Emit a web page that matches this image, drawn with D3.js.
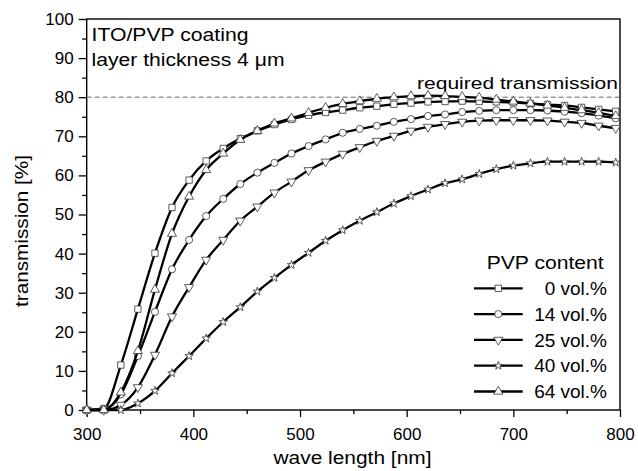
<!DOCTYPE html>
<html>
<head>
<meta charset="utf-8">
<script src="https://cdn.jsdelivr.net/npm/d3@7"></script>
<style>
  body { margin: 0; background: #fff; }
  text { font-family: "Liberation Sans", Arial, Helvetica, sans-serif; fill: #000; }
</style>
</head>
<body>
<svg id="chart" width="638" height="471"></svg>
<script>
// Sampling wavelengths (nm) of the transmission spectra
const wavelengths = [300,316,332,348,364,380,396,412,428,444,460,476,492,508,524,540,
                     556,572,588,604,620,636,652,668,684,700,716,732,748,764,780,796];

// Transmission (%) for each PVP content of the ITO/PVP coating
const pvp0  = [0,0.3,11.5,25.8,40.1,51.8,58.8,63.7,66.9,69.4,71.4,73.0,74.3,75.4,76.1,76.7,
               77.3,77.7,78.2,78.5,78.8,78.9,79.0,78.9,78.8,78.6,78.4,78.1,77.9,77.4,76.9,76.4];
const pvp14 = [0,0.2,4.0,13.8,25.1,36.0,43.5,49.6,54.0,57.8,60.7,63.2,65.6,67.5,69.2,70.9,
               71.9,72.7,73.7,74.4,75.2,75.6,76.2,76.5,76.7,76.7,76.7,76.6,76.3,75.9,75.3,74.6];
const pvp25 = [0,0,1.3,5.8,14.1,23.9,31.4,38.4,43.5,48.4,52.0,55.6,58.4,61.3,63.5,65.5,
               67.2,68.8,70.1,71.4,72.4,73.1,73.7,74.0,74.1,74.1,74.1,74.0,73.7,73.4,72.7,72.1];
const pvp40 = [0,0,0,1.7,4.9,9.4,13.8,18.3,22.5,26.3,30.3,33.8,37.1,40.2,43.3,46.0,
               48.4,50.6,52.8,54.7,56.4,58.0,59.0,60.4,61.6,62.5,63.1,63.5,63.5,63.5,63.5,63.3];
const pvp64 = [0,0,4.5,15.1,30.8,45.1,54.6,61.4,65.6,69.1,71.4,73.3,74.6,76.0,77.3,78.3,
               79.0,79.6,80.0,80.3,80.4,80.3,80.1,79.9,79.4,78.9,78.4,77.9,77.3,76.7,76.0,75.2];

const seriesLabels = ["0 vol.%", "14 vol.%", "25 vol.%", "40 vol.%", "64 vol.%"];
const xTicks = [300, 400, 500, 600, 700, 800];
const xMinorTicks = [350, 450, 550, 650, 750];
const yTicks = [0, 10, 20, 30, 40, 50, 60, 70, 80, 90, 100];
const yMinorTicks = [5, 15, 25, 35, 45, 55, 65, 75, 85, 95];
const requiredTransmission = 80;

const series = [
  { label: seriesLabels[0], values: pvp0,  symbol: d3.symbolSquare,   size: 40, rotate: 0 },
  { label: seriesLabels[1], values: pvp14, symbol: d3.symbolCircle,   size: 40, rotate: 0 },
  { label: seriesLabels[2], values: pvp25, symbol: d3.symbolTriangle, size: 36, rotate: 180 },
  { label: seriesLabels[3], values: pvp40, symbol: d3.symbolStar,     size: 22, rotate: 0 },
  { label: seriesLabels[4], values: pvp64, symbol: d3.symbolTriangle, size: 36, rotate: 0 }
];

const svg = d3.select("#chart");
const plot = { left: 86.7, right: 620, top: 19, bottom: 410 };

const x = d3.scaleLinear().domain([300, 800]).range([plot.left, plot.right]);
const y = d3.scaleLinear().domain([0, 100]).range([plot.bottom, plot.top]);

// Axes: major ticks with labels, minor ticks without
const tickFont = "17px";
const xAxis = svg.append("g")
  .attr("transform", `translate(0,${plot.bottom})`)
  .call(d3.axisBottom(x).tickValues(xTicks).tickSizeInner(7).tickSizeOuter(0).tickPadding(11));
svg.append("g")
  .attr("transform", `translate(0,${plot.bottom})`)
  .call(d3.axisBottom(x).tickValues(xMinorTicks).tickSizeInner(4).tickSizeOuter(0).tickFormat(""));
const yAxis = svg.append("g")
  .attr("transform", `translate(${plot.left},0)`)
  .call(d3.axisLeft(y).tickValues(yTicks).tickSizeInner(8).tickSizeOuter(0).tickPadding(5));
svg.append("g")
  .attr("transform", `translate(${plot.left},0)`)
  .call(d3.axisLeft(y).tickValues(yMinorTicks).tickSizeInner(4.5).tickSizeOuter(0).tickFormat(""));

svg.selectAll(".domain").remove();
svg.selectAll(".tick line").attr("stroke", "#000").attr("stroke-width", 1.3);
svg.selectAll(".tick text")
  .style("font-family", "'Liberation Sans', Arial, sans-serif")
  .style("font-size", tickFont)
  .attr("fill", "#000");

// Plot frame
svg.append("rect")
  .attr("x", plot.left).attr("y", plot.top)
  .attr("width", plot.right - plot.left).attr("height", plot.bottom - plot.top)
  .attr("fill", "none").attr("stroke", "#000").attr("stroke-width", 1.4);

// Required transmission reference line
svg.append("line")
  .attr("x1", plot.left).attr("x2", plot.right)
  .attr("y1", y(requiredTransmission)).attr("y2", y(requiredTransmission))
  .attr("stroke", "#666").attr("stroke-width", 1).attr("stroke-dasharray", "5,3");

svg.append("text")
  .attr("x", 618).attr("y", 88.5)
  .attr("text-anchor", "end")
  .attr("textLength", 201).attr("lengthAdjust", "spacingAndGlyphs")
  .style("font-size", "17px")
  .text("required transmission");

// Annotation
svg.append("text")
  .attr("x", 91.5).attr("y", 41)
  .attr("textLength", 157).attr("lengthAdjust", "spacingAndGlyphs")
  .style("font-size", "17.5px")
  .text("ITO/PVP coating");
svg.append("text")
  .attr("x", 91.5).attr("y", 65.5)
  .attr("textLength", 193).attr("lengthAdjust", "spacingAndGlyphs")
  .style("font-size", "17.5px")
  .text("layer thickness 4 μm");

// Curves and markers
const line = d3.line()
  .x((d, i) => x(wavelengths[i]))
  .y(d => y(d))
  .curve(d3.curveMonotoneX);

const clip = svg.append("clipPath").attr("id", "plot-clip")
  .append("rect")
  .attr("x", plot.left - 6).attr("y", plot.top)
  .attr("width", plot.right - plot.left + 6).attr("height", plot.bottom - plot.top + 6);

const marks = svg.append("g").attr("clip-path", "url(#plot-clip)");

series.forEach(s => {
  const g = marks.append("g");
  g.append("path")
    .attr("d", line(s.values))
    .attr("fill", "none")
    .attr("stroke", "#000")
    .attr("stroke-width", 2.3)
    .attr("stroke-linejoin", "round");
  const sym = d3.symbol().type(s.symbol).size(s.size);
  g.selectAll("path.marker")
    .data(s.values)
    .join("path")
    .attr("class", "marker")
    .attr("d", sym)
    .attr("transform", (d, i) => `translate(${x(wavelengths[i])},${y(d)}) rotate(${s.rotate})`)
    .attr("fill", "#fff")
    .attr("stroke", "#333")
    .attr("stroke-width", 0.8);
});

// Legend
const legend = svg.append("g");
legend.append("text")
  .attr("x", 486.7).attr("y", 268.5)
  .attr("textLength", 117).attr("lengthAdjust", "spacingAndGlyphs")
  .style("font-size", "18.5px")
  .text("PVP content");

series.forEach((s, i) => {
  const ly = 288.3 + i * 25.8;
  legend.append("line")
    .attr("x1", 474).attr("x2", 522.7)
    .attr("y1", ly).attr("y2", ly)
    .attr("stroke", "#000").attr("stroke-width", 2.3);
  legend.append("path")
    .attr("d", d3.symbol().type(s.symbol).size(s.size)())
    .attr("transform", `translate(498.3,${ly}) rotate(${s.rotate})`)
    .attr("fill", "#fff").attr("stroke", "#333").attr("stroke-width", 0.8);
  legend.append("text")
    .attr("x", 607).attr("y", ly + 6.7)
    .attr("text-anchor", "end")
    .style("font-size", "19px")
    .text(s.label);
});

// Axis titles
svg.append("text")
  .attr("x", 352.5).attr("y", 463.5)
  .attr("text-anchor", "middle")
  .attr("textLength", 158).attr("lengthAdjust", "spacingAndGlyphs")
  .style("font-size", "17.5px")
  .text("wave length [nm]");

svg.append("text")
  .attr("transform", "translate(28,231) rotate(-90)")
  .attr("text-anchor", "middle")
  .attr("textLength", 152).attr("lengthAdjust", "spacingAndGlyphs")
  .style("font-size", "17.5px")
  .text("transmission [%]");
</script>
</body>
</html>
